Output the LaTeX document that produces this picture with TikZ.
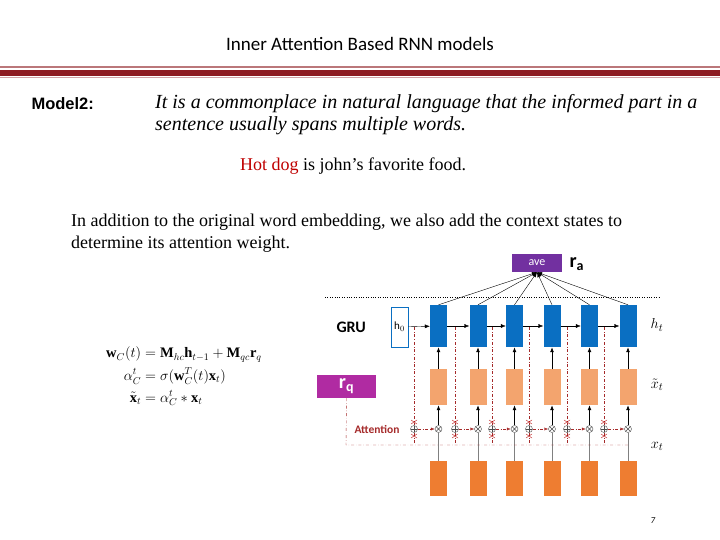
\documentclass[tikz,border=0pt]{standalone}
\usepackage{amsmath}
\usepackage{fontspec}
\setmainfont{Liberation Serif}
\setsansfont{Carlito}
\newfontfamily\arialf{Liberation Sans}
\usetikzlibrary{arrows.meta}
\definecolor{gblue}{HTML}{0A6FC2}
\definecolor{lor}{HTML}{F3A46E}
\definecolor{dor}{HTML}{EE7D31}
\definecolor{avep}{HTML}{7230A0}
\definecolor{rqc}{HTML}{B02BA2}
\definecolor{dred}{HTML}{A52A2A}
\definecolor{barr}{HTML}{8E1C22}
\begin{document}
\begin{tikzpicture}[x=1pt,y=-1pt,
  hbox/.style={fill=gblue,minimum width=17pt,minimum height=42pt,inner sep=0},
  lbox/.style={fill=lor,minimum width=17pt,minimum height=36pt,inner sep=0},
  dbox/.style={fill=dor,minimum width=17pt,minimum height=35pt,inner sep=0},
  opl/.style={circle,draw=black!70,inner sep=0,minimum size=7pt,path picture={\draw[black!70] (path picture bounding box.north) -- (path picture bounding box.south) (path picture bounding box.west) -- (path picture bounding box.east);}},
  otm/.style={circle,draw=black!70,inner sep=0,minimum size=7pt,path picture={\draw[black!70] (path picture bounding box.north west) -- (path picture bounding box.south east) (path picture bounding box.south west) -- (path picture bounding box.north east);}},
  arr/.style={-{Latex[length=5pt,width=4pt]},thick},
  dd/.style={dred,dash dot,thin},
  lab/.style={font=\sffamily,anchor=west}]
\useasboundingbox (0,0) rectangle (720,540);
% title and bars
\node (title) at (360,44) {\sffamily\fontsize{19}{22}\selectfont Inner Attention Based RNN models};
\fill[barr!60] (0,66) rectangle (720,68);
\fill[barr] (0,70) rectangle (720,76);
\fill[barr!40] (0,77) rectangle (720,78);
\node[anchor=west] (model) at (28,104) {\arialf\bfseries\fontsize{16.5}{18}\selectfont Model2:};
\node[anchor=north west,align=left,inner sep=0,font=\fontsize{20}{22}\selectfont\itshape] (intro) at (155,94) {It is a commonplace in natural language that the informed part in a\\ sentence usually spans multiple words.};
\node[anchor=west,inner sep=0] (ex) at (240,166) {\fontsize{18}{20}\selectfont\textcolor{red!75!black}{Hot dog} is john’s favorite food.};
\node[anchor=north west,align=left,inner sep=0,font=\fontsize{18}{22}\selectfont] (para) at (71,214) {In addition to the original word embedding, we also add the context states to\\ determine its attention weight.};
% equations
\node (eq) at (184,377) {\fontsize{14.5}{16}\selectfont$\begin{aligned}\mathbf{w}_C(t)&=\mathbf{M}_{hc}\mathbf{h}_{t-1}+\mathbf{M}_{qc}\mathbf{r}_q\\[1pt]\alpha_C^t&=\sigma(\mathbf{w}_C^T(t)\mathbf{x}_t)\\[1pt]\tilde{\mathbf{x}}_t&=\alpha_C^t*\mathbf{x}_t\end{aligned}$};
% diagram
\draw[dotted,thin] (325,297) coordinate (dl) -- (660,297) coordinate (dr);
\node[fill=avep,text=white,minimum width=50pt,minimum height=18pt,inner sep=0,font=\sffamily\fontsize{12}{14}\selectfont] (ave) at (537,263) {ave};
\node[lab,font=\sffamily\bfseries\fontsize{20}{22}\selectfont] (ra) at (566,264) {r$_{\text{a}}$};
\node[lab,font=\sffamily\bfseries\fontsize{16}{18}\selectfont] (gru) at (333,327) {GRU};
\node[draw=gblue,thick,fill=white,minimum width=17pt,minimum height=40pt,inner sep=0,font=\sffamily\fontsize{11}{12}\selectfont] (h0) at (399.5,327) {h$_0$};
\node[fill=rqc,text=white,minimum width=59pt,minimum height=23pt,inner sep=0,font=\sffamily\bfseries\fontsize{20}{22}\selectfont] (rq) at (346.5,386.5) {r$_{\text{q}}$};
\node[font=\sffamily\bfseries\fontsize{11.5}{13}\selectfont,text=dred] (att) at (377,429) {Attention};
\node[font=\fontsize{15}{17}\selectfont] (ht) at (657,325) {$h_t$};
\node[font=\fontsize{15}{17}\selectfont] (xtt) at (657,385) {$\tilde{x}_t$};
\node[font=\fontsize{15}{17}\selectfont] (xt) at (657,446) {$x_t$};
\node (pg) at (653,521) {\sffamily\fontsize{9}{10}\selectfont\itshape 7};
\foreach \i/\x/\px in {1/438.5/414,2/478/455,3/514.5/492,4/552/529,5/589.5/567,6/628/604}{
  \node[hbox] (h\i) at (\x,326) {};
  \node[lbox] (l\i) at (\x,387) {};
  \node[dbox] (d\i) at (\x,478.5) {};
  \node[otm] (m\i) at (\x,429) {};
  \node[opl] (p\i) at (\px,429) {};
  \coordinate (t\i) at (\px,327);
  \coordinate (b\i) at (\px,445);
  \draw[dd] (t\i) -- (p\i.north);
  \draw[dd] (p\i.south) -- (b\i);
  \draw[dd,-{Latex[length=4pt]}] (p\i) -- (m\i);
  \draw[gray,thick] (d\i) -- (m\i);
  \draw[arr] (m\i) -- (l\i);
  \draw[arr] (l\i) -- (h\i);
  \draw[arr,thin] (h\i.north) -- (ave.south);
  \draw[red!70!black,thin] ([shift={(-3,-9)}]p\i.center) -- ([shift={(3,-5)}]p\i.center) ([shift={(3,-9)}]p\i.center) -- ([shift={(-3,-5)}]p\i.center);
  \draw[red!70!black,thin] ([shift={(-3,9)}]p\i.center) -- ([shift={(3,5)}]p\i.center) ([shift={(3,9)}]p\i.center) -- ([shift={(-3,5)}]p\i.center);
}
\draw[arr,thin] (h0) -- (h1);
\foreach \a/\b in {1/2,2/3,3/4,4/5,5/6}{\draw[arr,thin] (h\a) -- (h\b);}
\coordinate (rqb) at (346,445);
\coordinate (end) at (628,445);
\draw[dd] (rq.south) -- (rqb) -- (end);
\end{tikzpicture}
\end{document}
